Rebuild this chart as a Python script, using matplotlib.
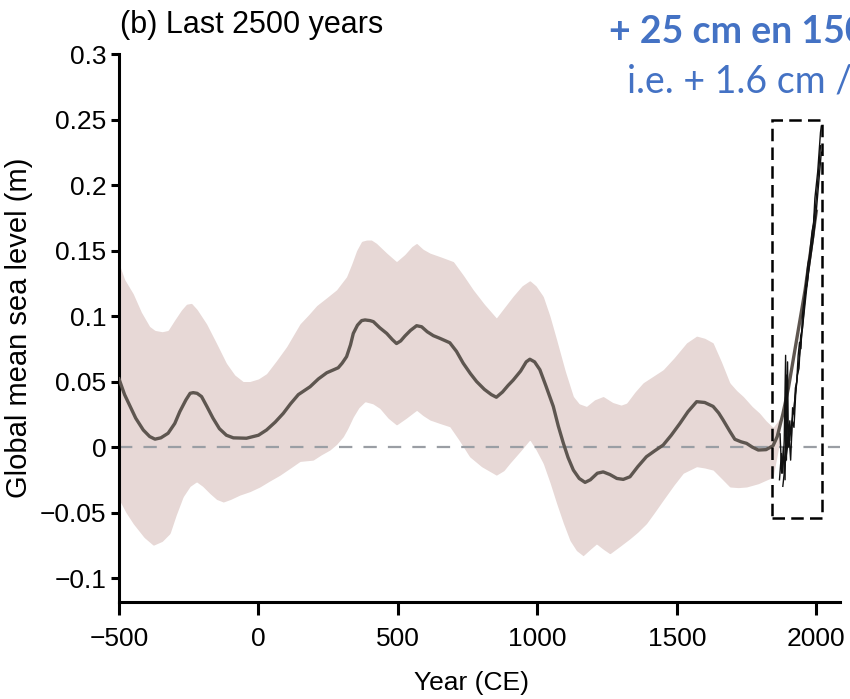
import numpy as np
import matplotlib
matplotlib.use('Agg')
import matplotlib.pyplot as plt
from matplotlib.patches import Rectangle

plt.rcParams['font.family'] = ['Liberation Sans', 'DejaVu Sans']

# proxy reconstruction, central estimate (year CE, m)
mean_years = [-500, -480, -460, -440, -413, -390, -371, -350, -324, -300, -282, -260, -245, -234,
              -220, -204, -185, -163, -140, -115, -90, -43, 0, 29, 60, 89, 115, 143, 185, 215,
              245, 270, 286, 300, 316, 330, 340, 355, 370, 382, 400, 412, 435, 460, 480, 495,
              510, 525, 545, 567, 585, 605, 627, 650, 686, 710, 734, 760, 782, 810, 835, 853,
              875, 895, 913, 940, 960, 973, 990, 1009, 1030, 1057, 1075, 1093, 1110, 1129, 1150,
              1171, 1190, 1215, 1236, 1260, 1285, 1308, 1332, 1360, 1391, 1420, 1451, 1480, 1511,
              1540, 1571, 1600, 1630, 1650, 1666, 1690, 1708, 1730, 1750, 1770, 1792, 1820, 1845,
              1860, 1880, 1900, 1920, 1940, 1960, 1980, 2000]
mean_vals = [0.052, 0.040, 0.031, 0.022, 0.013, 0.008, 0.006, 0.007, 0.0105, 0.018, 0.027, 0.036,
             0.041, 0.0415, 0.041, 0.0385, 0.031, 0.022, 0.014, 0.009, 0.007, 0.0067, 0.009,
             0.013, 0.019, 0.0257, 0.033, 0.040, 0.046, 0.052, 0.0567, 0.059, 0.0605, 0.064,
             0.069, 0.078, 0.0867, 0.093, 0.0965, 0.097, 0.0965, 0.0957, 0.091, 0.0867, 0.082,
             0.079, 0.081, 0.0847, 0.089, 0.0926, 0.0918, 0.088, 0.085, 0.083, 0.0796, 0.073,
             0.064, 0.056, 0.050, 0.044, 0.040, 0.038, 0.042, 0.047, 0.051, 0.058, 0.065, 0.067,
             0.065, 0.059, 0.047, 0.031, 0.016, 0.003, -0.008, -0.0176, -0.024, -0.027, -0.025,
             -0.020, -0.019, -0.021, -0.024, -0.0247, -0.0227, -0.015, -0.0074, -0.003, 0.0015,
             0.009, 0.018, 0.027, 0.0346, 0.034, 0.031, 0.026, 0.0206, 0.012, 0.0059, 0.004,
             0.0028, 0.0, -0.0023, -0.002, 0.001, 0.008, 0.025, 0.045, 0.07, 0.095, 0.12, 0.15,
             0.18]

# uncertainty band, upper and lower edges
up_years = [-500, -480, -449, -420, -390, -371, -345, -324, -300, -276, -258, -240, -220, -186,
            -150, -115, -85, -55, -31, 0, 29, 65, 101, 149, 180, 209, 245, 280, 316, 335, 352,
            370, 388, 405, 423, 460, 495, 525, 550, 567, 590, 615, 655, 699, 735, 770, 810, 853,
            880, 913, 945, 973, 995, 1021, 1045, 1069, 1100, 1129, 1150, 1176, 1205, 1236, 1270,
            1300, 1320, 1350, 1379, 1415, 1451, 1490, 1535, 1571, 1600, 1630, 1660, 1690, 1715,
            1738, 1770, 1797, 1820, 1845, 1870]
up_vals = [0.14, 0.128, 0.117, 0.103, 0.092, 0.089, 0.088, 0.089, 0.097, 0.1046, 0.109, 0.1097,
           0.105, 0.094, 0.079, 0.064, 0.055, 0.050, 0.050, 0.052, 0.056, 0.066, 0.0766, 0.094,
           0.101, 0.108, 0.114, 0.120, 0.130, 0.140, 0.150, 0.157, 0.158, 0.158, 0.1555, 0.148,
           0.1415, 0.147, 0.153, 0.1555, 0.151, 0.148, 0.145, 0.1415, 0.131, 0.120, 0.109,
           0.0985, 0.106, 0.1151, 0.123, 0.127, 0.123, 0.115, 0.100, 0.082, 0.058, 0.0386,
           0.033, 0.031, 0.036, 0.0386, 0.034, 0.032, 0.0335, 0.042, 0.049, 0.054, 0.059, 0.068,
           0.0795, 0.0847, 0.083, 0.0795, 0.065, 0.049, 0.043, 0.0386, 0.031, 0.0258, 0.020,
           0.015, 0.022]
lo_years = [-500, -475, -449, -410, -377, -345, -317, -295, -270, -245, -222, -200, -174, -150,
            -126, -100, -67, -30, 5, 40, 77, 115, 149, 196, 225, 256, 280, 304, 320, 340, 360,
            382, 410, 435, 465, 495, 530, 567, 590, 615, 650, 686, 720, 757, 800, 853, 880, 901,
            940, 973, 995, 1021, 1045, 1069, 1093, 1117, 1140, 1164, 1190, 1212, 1236, 1260,
            1295, 1332, 1360, 1391, 1420, 1451, 1490, 1523, 1571, 1600, 1630, 1660, 1690, 1720,
            1750, 1792, 1845, 1870]
lo_vals = [-0.040, -0.050, -0.0585, -0.069, -0.075, -0.072, -0.066, -0.052, -0.038, -0.030,
           -0.0266, -0.030, -0.0355, -0.040, -0.042, -0.040, -0.0367, -0.034, -0.0305, -0.026,
           -0.0215, -0.016, -0.011, -0.010, -0.006, -0.0023, 0.002, 0.0079, 0.014, 0.023, 0.030,
           0.0346, 0.033, 0.0295, 0.022, 0.0168, 0.022, 0.028, 0.024, 0.0206, 0.018, 0.0155,
           0.005, -0.0074, -0.015, -0.0215, -0.018, -0.0125, -0.003, 0.0054, -0.002, -0.0125,
           -0.027, -0.043, -0.058, -0.0714, -0.079, -0.083, -0.078, -0.074, -0.078, -0.0815,
           -0.076, -0.070, -0.065, -0.0585, -0.050, -0.0406, -0.029, -0.020, -0.015, -0.016,
           -0.0176, -0.024, -0.0305, -0.031, -0.0305, -0.028, -0.023, 0.005]

# tide-gauge records
tg1_years = [1868, 1875, 1880, 1885, 1890, 1893, 1897, 1900, 1905, 1910, 1915, 1920, 1925, 1930,
             1935, 1940, 1945, 1950, 1955, 1960, 1965, 1970, 1975, 1980, 1985, 1990, 1995, 2000,
             2005, 2010, 2015, 2018]
tg1_vals = [-0.025, -0.005, -0.02, 0.005, 0.07, -0.01, 0.065, 0.0, 0.02, 0.005, 0.03, 0.025,
            0.045, 0.05, 0.07, 0.08, 0.075, 0.10, 0.11, 0.12, 0.13, 0.14, 0.145, 0.155, 0.165,
            0.17, 0.19, 0.20, 0.21, 0.225, 0.24, 0.245]
tg2_years = [1880, 1890, 1900, 1910, 1920, 1930, 1940, 1950, 1960, 1970, 1980, 1990, 2000, 2010,
             2018]
tg2_vals = [-0.03, -0.01, 0.005, 0.015, 0.03, 0.05, 0.07, 0.09, 0.11, 0.13, 0.145, 0.16, 0.18,
            0.205, 0.225]
tg3_years = [1870, 1876, 1882, 1888, 1892, 1896, 1902, 1908, 1914, 1920, 1926, 1932, 1938, 1944,
             1950, 1956, 1962, 1968, 1974, 1980, 1986, 1992, 1998, 2004, 2010, 2015]
tg3_vals = [0.01, -0.02, 0.0, -0.025, 0.055, 0.0, 0.01, -0.01, 0.02, 0.015, 0.04, 0.055, 0.06,
            0.085, 0.09, 0.105, 0.12, 0.125, 0.14, 0.15, 0.16, 0.175, 0.185, 0.2, 0.215, 0.23]

yticks = [-0.1, -0.05, 0, 0.05, 0.1, 0.15, 0.2, 0.25, 0.3]
ytick_labels = ['\u22120.1', '\u22120.05', '0', '0.05', '0.1', '0.15', '0.2', '0.25', '0.3']
xticks = [-500, 0, 500, 1000, 1500, 2000]
xtick_labels = ['\u2212500', '0', '500', '1000', '1500', '2000']

fig = plt.figure(figsize=(8.5, 6.99), dpi=100)
ax = fig.add_axes([119 / 850, 1 - 602 / 699, (840 - 119) / 850, (602 - 54) / 699])

# band: both edges on a shared grid of years
grid = np.linspace(-500, 1870, 800)
ax.fill_between(grid, np.interp(grid, lo_years, lo_vals), np.interp(grid, up_years, up_vals),
                color='#e7d8d6', lw=0, zorder=1)
ax.axhline(0, color='#9a9ea4', lw=1.6, dashes=(6, 5), zorder=2)
ax.plot(mean_years, mean_vals, color='#5e5650', lw=2.4, zorder=3, solid_joinstyle='round')
for yrs, vals in [(tg1_years, tg1_vals), (tg2_years, tg2_vals), (tg3_years, tg3_vals)]:
    ax.plot(yrs, vals, color='#111111', lw=1.0, zorder=4)

ax.add_patch(Rectangle((1841, -0.054), 179, 0.304, fill=False, ec='black', lw=1.8,
                       ls=(0, (5, 2.5)), zorder=5, clip_on=False))

ax.set_xlim(-500, 2085)
ax.set_ylim(-0.1183, 0.3)
ax.set_yticks(yticks)
ax.set_yticklabels(ytick_labels)
ax.set_xticks(xticks)
ax.set_xticklabels(xtick_labels)
for s in ['top', 'right']:
    ax.spines[s].set_visible(False)
for s in ['left', 'bottom']:
    ax.spines[s].set_linewidth(2.2)
ax.tick_params(axis='y', direction='out', length=6, width=2.2, labelsize=19, pad=3)
ax.tick_params(axis='x', direction='out', length=9, width=2.2, labelsize=19, pad=9)

fig.text(120 / 850, 1 - 25 / 699, '(b) Last 2500 years', fontsize=22, ha='left', va='center')
fig.text(19 / 850, 1 - 328 / 699, 'Global mean sea level (m)', fontsize=21, rotation=90,
         ha='center', va='center')
fig.text(472 / 850, 1 - 683 / 699, 'Year (CE)', fontsize=19, ha='center', va='center')

# annotation runs off the right edge, as in the original slide
fig.text(609 / 850, 1 - 43 / 699, '+ 25 cm en 150 ans', fontsize=27, fontweight='bold',
         color='#4472c4', family=['Lato', 'DejaVu Sans'], ha='left', va='baseline')
fig.text(627 / 850, 1 - 92 / 699, 'i.e. + 1.6 cm / an', fontsize=27,
         color='#4472c4', family=['Lato', 'DejaVu Sans'], ha='left', va='baseline')

fig.savefig('out.png', dpi=100)
